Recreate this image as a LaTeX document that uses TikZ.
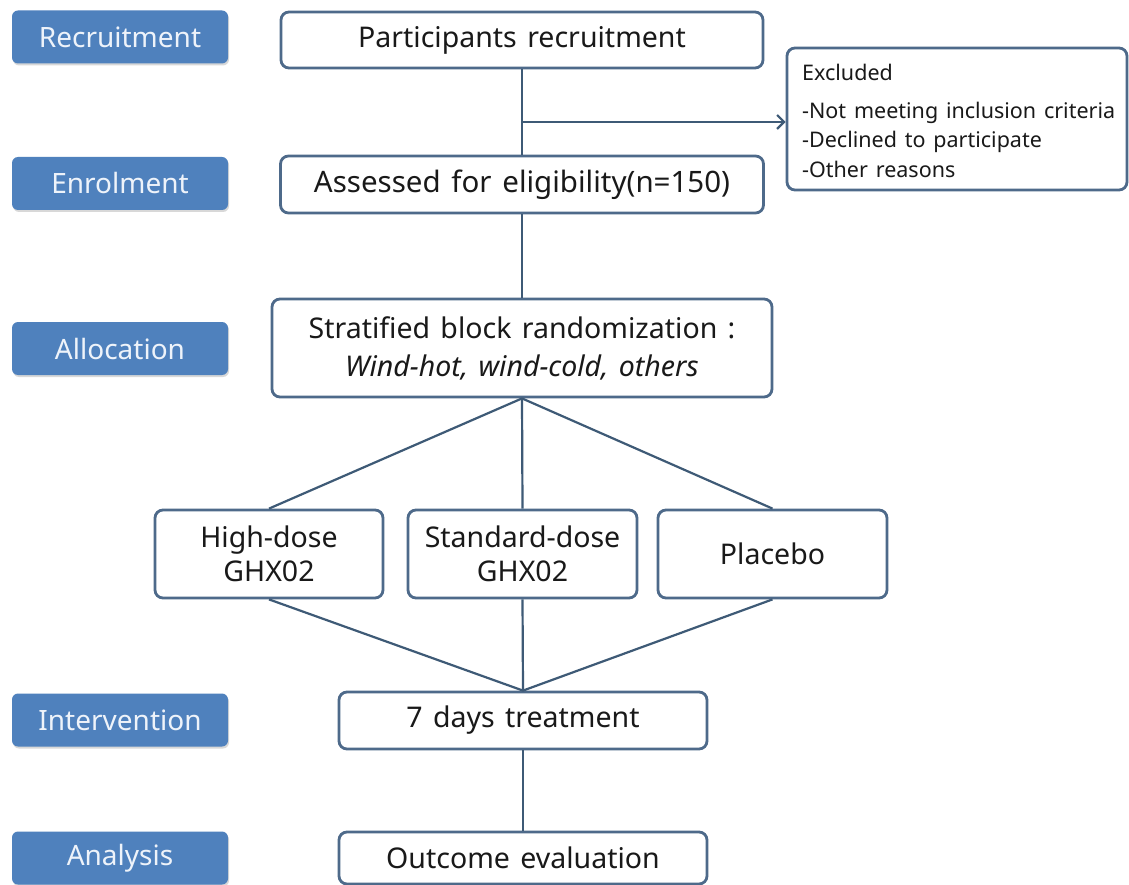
\documentclass[tikz,border=0pt]{standalone}
\usepackage{fontspec}
\setmainfont{Noto Sans}[WordSpace={1.4}]
\usetikzlibrary{arrows.meta,shadows}
\definecolor{bluefill}{RGB}{79,129,189}
\definecolor{bordc}{RGB}{78,106,138}
\definecolor{linec}{RGB}{62,90,118}
\definecolor{txtc}{RGB}{25,25,25}
\definecolor{lbltxt}{RGB}{238,243,250}
\begin{document}
\begin{tikzpicture}[x=1pt,y=-1pt,
  stage/.style={rectangle, rounded corners=6pt, fill=bluefill, draw=none, text=lbltxt,
    font=\fontsize{28}{32}\selectfont, minimum width=216pt, minimum height=53pt, inner sep=0pt,
    drop shadow={opacity=0.3, shadow xshift=1pt, shadow yshift=-2pt}},
  flowbox/.style={rectangle, rounded corners=8pt, draw=bordc, line width=2.8pt, fill=white,
    text=txtc, font=\fontsize{28.5}{34}\selectfont, inner sep=0pt, align=center},
  conn/.style={draw=linec, line width=2.2pt}]
\useasboundingbox[fill=white] (0,0) rectangle (1129,885);

% stage labels
\node[stage] (s1) at (120,37)    {Recruitment};
\node[stage] (s2) at (120,183.5) {Enrolment};
\node[stage] (s3) at (120,348.5) {Allocation};
\node[stage] (s4) at (120,720)   {Intervention};
\node[stage] (s5) at (120,858)   {Analysis};

% flow boxes
\node[flowbox, minimum width=482pt, minimum height=56pt] (part) at (522,40) {Participants recruitment};
\node[flowbox, minimum width=483pt, minimum height=57pt, font=\fontsize{29.5}{34}\selectfont] (assess) at (522,184.5) {Assessed for eligibility(n=150)};
\node[flowbox, minimum width=500pt, minimum height=98pt, font=\fontsize{28.5}{38}\selectfont] (strat) at (522,348)
  {Stratified block randomization :\\ \itshape Wind-hot, wind-cold, others};
\node[flowbox, minimum width=228pt, minimum height=88pt] (high) at (269,554) {High-dose\\GHX02};
\node[flowbox, minimum width=229pt, minimum height=88pt] (std) at (522.5,554) {Standard-dose\\GHX02};
\node[flowbox, minimum width=229pt, minimum height=88pt] (plac) at (772.5,554) {Placebo};
\node[flowbox, minimum width=368pt, minimum height=57pt] (treat) at (523,720.5) {7 days treatment};
\node[flowbox, minimum width=368pt, minimum height=52pt] (outc) at (523,858) {Outcome evaluation};
\node[flowbox, minimum width=340pt, minimum height=142pt] (excl) at (957,119) {};
\node[anchor=west, align=left, inner sep=0pt, text=txtc, font=\fontsize{21.5}{29.5}\selectfont] (excltxt) at (802,121)
  {Excluded\\[8pt]-Not meeting inclusion criteria\\-Declined to participate\\-Other reasons};

% connectors
\draw[conn] (part.south) -- (assess.north);
\coordinate (br) at (522,122);
\draw[conn, -{Straight Barb[length=7pt,width=14pt]}] (br) -- (br -| excl.west);
\draw[conn] (assess.south) -- (strat.north);
\draw[conn] (strat.south) -- (high.north);
\draw[conn] (strat.south) -- (std.north);
\draw[conn] (strat.south) -- (plac.north);
\draw[conn] (high.south) -- (treat.north);
\draw[conn] (std.south) -- (treat.north);
\draw[conn] (plac.south) -- (treat.north);
\draw[conn] (treat.south) -- (outc.north);
\end{tikzpicture}
\end{document}
